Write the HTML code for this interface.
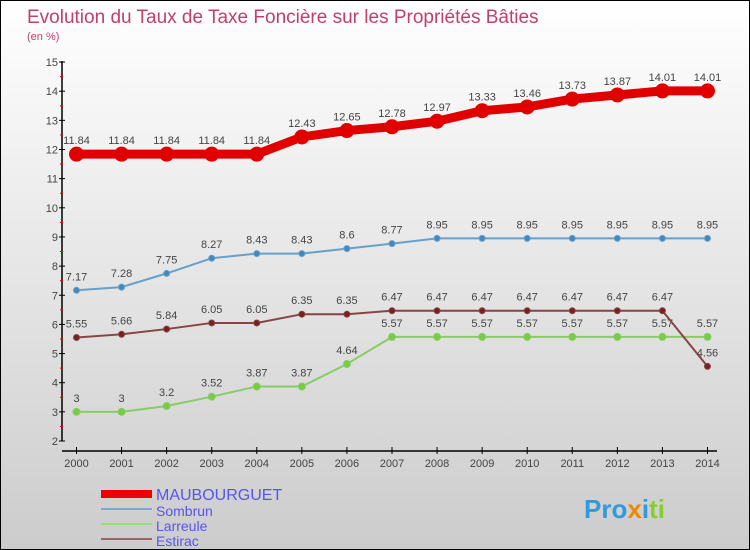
<!DOCTYPE html>
<html><head><meta charset="utf-8"><style>
body{margin:0;}
#c{width:750px;height:550px;position:relative;background:linear-gradient(#ffffff,#cccccc);box-sizing:border-box;border:1px solid #000;font-family:"Liberation Sans",sans-serif;overflow:hidden}
svg text{font-family:"Liberation Sans",sans-serif}
</style></head><body>
<div id="c">
<svg width="750" height="550" id="s">
<text x="26" y="22" font-size="19" fill="#c0406a">Evolution du Taux de Taxe Foncière sur les Propriétés Bâties</text>
<text x="26" y="39" font-size="11" fill="#c0406a">(en %)</text>
<g id="axes"></g><g id="series"></g>
<g>
<rect x="100" y="489" width="51" height="8" fill="#e00"/>
<text x="155" y="499" font-size="16" fill="#5555ee">MAUBOURGUET</text>
<rect x="100" y="507" width="51" height="2" fill="#7aaacc"/>
<text x="155" y="515" font-size="14" fill="#5555ee">Sombrun</text>
<rect x="100" y="522" width="51" height="2" fill="#99dd77"/>
<text x="155" y="530" font-size="14" fill="#5555ee">Larreule</text>
<rect x="100" y="537" width="51" height="2" fill="#996666"/>
<text x="155" y="545" font-size="14" fill="#5555ee">Estirac</text>
</g>
<text x="583" y="517" font-size="26" font-weight="bold"><tspan fill="#3399dd">Pro</tspan><tspan fill="#ee8800">x</tspan><tspan fill="#3399dd">i</tspan><tspan fill="#88cc33">ti</tspan></text>
</svg></div>
<script>
const years=[2000,2001,2002,2003,2004,2005,2006,2007,2008,2009,2010,2011,2012,2013,2014];
const yTicks=[2,3,4,5,6,7,8,9,10,11,12,13,14,15];
const maubourguet=[11.84,11.84,11.84,11.84,11.84,12.43,12.65,12.78,12.97,13.33,13.46,13.73,13.87,14.01,14.01];
const sombrun=[7.17,7.28,7.75,8.27,8.43,8.43,8.6,8.77,8.95,8.95,8.95,8.95,8.95,8.95,8.95];
const larreule=[3,3,3.2,3.52,3.87,3.87,4.64,5.57,5.57,5.57,5.57,5.57,5.57,5.57,5.57];
const estirac=[5.55,5.66,5.84,6.05,6.05,6.35,6.35,6.47,6.47,6.47,6.47,6.47,6.47,6.47,4.56];
const NS="http://www.w3.org/2000/svg";
const X=i=>75.5+i*45.07;
const Y=v=>440-(v-2)*29.15;
function mk(t,a,p){const e=document.createElementNS(NS,t);for(const k in a)e.setAttribute(k,a[k]);p.appendChild(e);return e;}
const ax=document.getElementById('axes');
let e=mk('line',{x1:61,y1:60,x2:61,y2:440,stroke:'#000','stroke-width':1.5},ax);


e=mk('line',{x1:61,y1:450,x2:716,y2:450,stroke:'#000','stroke-width':1.5},ax);


yTicks.forEach(v=>{
 mk('line',{x1:58,x2:64,y1:Y(v),y2:Y(v),stroke:'#000'},ax);
 if(v<15) mk('line',{x1:59,x2:62,y1:Y(v+0.5),y2:Y(v+0.5),stroke:'#e00'},ax);
 const t=mk('text',{x:57,y:Y(v)+4,'font-size':11,'text-anchor':'end',fill:'#444'},ax);
 t.textContent=v;
 
 
});
years.forEach((y,i)=>{
 mk('line',{x1:X(i),x2:X(i),y1:446,y2:453,stroke:'#000'},ax);
 const t=mk('text',{x:X(i),y:466,'font-size':11,'text-anchor':'middle',fill:'#444'},ax);
 t.textContent=y;
 
 
});
const sg=document.getElementById('series');
function series(name,data,color,lw,r,fill){
 const g=mk('g',{},sg);
 
 
 const pl=mk('polyline',{points:data.map((v,i)=>X(i)+','+Y(v)).join(' '),fill:'none',stroke:color,'stroke-width':lw},g);
 
 
 data.forEach((v,i)=>{
  const c=mk('circle',{cx:X(i),cy:Y(v),r:r,fill:fill,stroke:color,'stroke-width':1},g);
  
  
  const t=mk('text',{x:X(i),y:Y(v)-10,'font-size':11,'text-anchor':'middle',fill:'#444'},g);
  t.textContent=v;
  
  
 });
}
series('larreule',larreule,'#88cc66',2,3.5,'#77cc44');
series('estirac',estirac,'#884444',2,3,'#772222');
series('sombrun',sombrun,'#66a0cc',2,3,'#4488bb');
series('maubourguet',maubourguet,'#e00000',9,7,'#e00000');
</script>
</body></html>
